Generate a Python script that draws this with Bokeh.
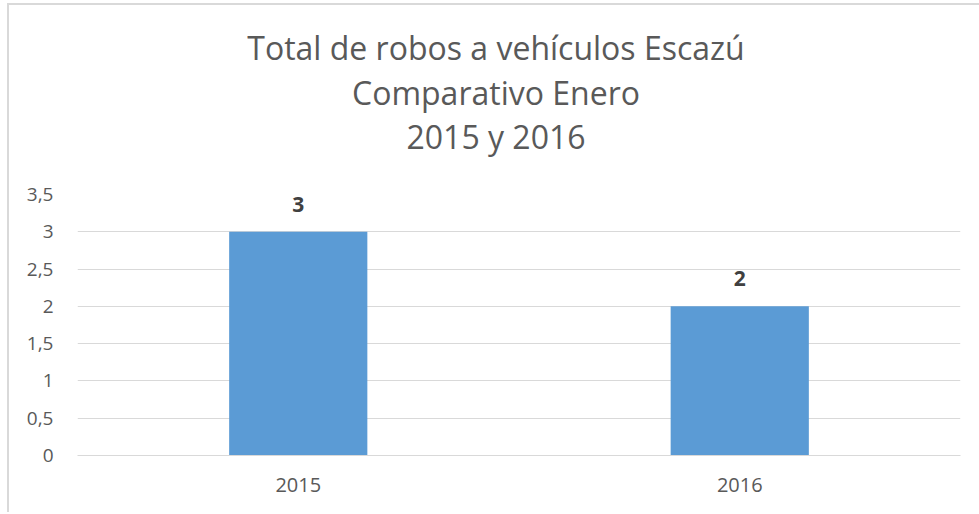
from bokeh.plotting import figure
from bokeh.layouts import column
from bokeh.models import (ColumnDataSource, FactorRange, FixedTicker, LabelSet, Range1d, Div)
from bokeh.core.properties import value
from bokeh.embed import file_html
from bokeh.resources import INLINE

# ---- data ----
years = ["2015", "2016"]
robos = [3, 2]
y_ticks = [0, 0.5, 1, 1.5, 2, 2.5, 3, 3.5]
y_tick_labels = ["0", "0,5", "1", "1,5", "2", "2,5", "3", "3,5"]
title_lines = ["Total de robos a vehículos Escazú", "Comparativo Enero", "2015 y 2016"]

src = ColumnDataSource(dict(x=years, top=robos, lbl=[str(v) for v in robos]))

FONT = "Open Sans"
GRAY = "#595959"
GRID = "#d9d9d9"

# ---- title block ----
title_html = (
    '<div style="width:800px; font-family:\'Open Sans\'; font-size:32px; line-height:44.5px; '
    'color:#595959; text-align:center; white-space:nowrap;">'
    + "<br>".join(title_lines) + "</div>"
)
title = Div(text=title_html, width=800, height=148, margin=(21, 0, 0, 87))

# ---- chart ----
p = figure(
    x_range=FactorRange(*years, range_padding=0),
    y_range=Range1d(0, 3.5),
    width=970, height=338,
    output_backend="svg", toolbar_location=None,
    min_border_left=68, min_border_right=19,
    min_border_top=20, min_border_bottom=57,
    outline_line_color=None,
    background_fill_color="white", border_fill_color="white",
    margin=(0, 0, 0, 0),
)

p.vbar(x="x", top="top", width=0.313, source=src, fill_color="#5b9bd5", line_color=None)

p.add_layout(LabelSet(x="x", y="top", text="lbl", source=src, y_offset=20,
                      text_align="center", text_baseline="alphabetic",
                      text_font=value(FONT), text_font_size="21px", text_font_style="bold",
                      text_color="#404040"))

# y axis
p.yaxis.ticker = FixedTicker(ticks=y_ticks)
p.yaxis.major_label_overrides = {t: l for t, l in zip(y_ticks, y_tick_labels)}
p.yaxis.axis_line_color = None
p.yaxis.major_tick_line_color = None
p.yaxis.minor_tick_line_color = None
p.yaxis.major_label_standoff = 18
p.yaxis.major_label_text_font = FONT
p.yaxis.major_label_text_font_size = "19px"
p.yaxis.major_label_text_color = GRAY

# x axis
p.xaxis.axis_line_color = GRID
p.xaxis.major_tick_line_color = None
p.xaxis.minor_tick_line_color = None
p.xaxis.major_label_standoff = 16
p.xaxis.major_label_text_font = FONT
p.xaxis.major_label_text_font_size = "20px"
p.xaxis.major_label_text_color = GRAY

p.xgrid.grid_line_color = None
p.ygrid.grid_line_color = GRID
p.ygrid.grid_line_width = 1

layout = column(title, p, spacing=0, margin=(3, 0, 0, 7),
                styles={"border-top": "2px solid #d9d9d9",
                        "border-left": "2px solid #d9d9d9",
                        "background-color": "white"})

open("out.html", "w").write(file_html(layout, INLINE))
